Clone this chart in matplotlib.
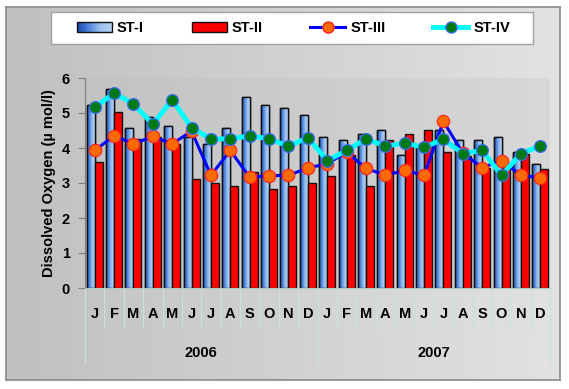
import matplotlib
matplotlib.use('Agg')
import matplotlib.pyplot as plt
import numpy as np
from matplotlib.patches import Rectangle
from matplotlib.legend_handler import HandlerBase
from matplotlib.lines import Line2D
import matplotlib.transforms as mtrans

plt.rcParams['font.family'] = ['Liberation Sans', 'DejaVu Sans']
plt.rcParams['font.weight'] = 'bold'

months = ['J', 'F', 'M', 'A', 'M', 'J', 'J', 'A', 'S', 'O', 'N', 'D'] * 2
years = ['2006', '2007']
st1 = [5.22, 5.68, 4.57, 4.90, 4.64, 4.31, 4.11, 4.57, 5.47, 5.23, 5.14, 4.94,
       4.31, 4.23, 4.41, 4.52, 3.81, 4.02, 4.52, 4.23, 4.23, 4.31, 3.90, 3.53]
st2 = [3.61, 5.03, 4.25, 4.31, 4.11, 3.12, 3.00, 2.92, 3.32, 2.82, 2.92, 3.00,
       3.20, 3.80, 2.92, 4.23, 4.41, 4.52, 3.90, 3.76, 3.42, 3.45, 3.83, 3.41]
st3 = [3.93, 4.35, 4.12, 4.33, 4.12, 4.48, 3.22, 3.93, 3.16, 3.21, 3.22, 3.43,
       3.55, 3.88, 3.42, 3.22, 3.36, 3.22, 4.76, 3.85, 3.44, 3.64, 3.22, 3.15]
st4 = [5.16, 5.57, 5.26, 4.68, 5.38, 4.58, 4.26, 4.26, 4.35, 4.26, 4.05, 4.30,
       3.64, 3.93, 4.26, 4.05, 4.14, 4.02, 4.25, 3.84, 3.93, 3.22, 3.84, 4.06]

blue_grad = matplotlib.colors.LinearSegmentedColormap.from_list(
    'bg', ['#1a48b0', '#4f86dc', '#9cc0ee', '#b4d0f4'])
gray_grad = matplotlib.colors.LinearSegmentedColormap.from_list(
    'gg', ['#c0c0c0', '#e2e2e2'])
plot_grad = matplotlib.colors.LinearSegmentedColormap.from_list(
    'pg', ['#c2c2c2', '#d8d8d8'])

fig = plt.figure(figsize=(5.69, 3.89), dpi=100)
fig.patch.set_facecolor('white')

# outer frame with gradient
bg = fig.add_axes([6/569, 1-380/389, 554/569, 373/389])
bg.imshow(np.linspace(0, 1, 256)[None, :], cmap=gray_grad, aspect='auto',
          extent=(0, 1, 0, 1))
for s in bg.spines.values():
    s.set_color('#8a8a8a')
    s.set_linewidth(1.2)
bg.set_xticks([])
bg.set_yticks([])

ax = fig.add_axes([85/569, 1-288/389, 465/569, 210/389])
n = len(st1)
x = np.arange(n)
ax.imshow(np.linspace(0, 1, 256)[None, :], cmap=plot_grad, aspect='auto',
          extent=(-0.5, n-0.5, 0, 6), zorder=0)

w = 0.41
bars1 = ax.bar(x - w/2, st1, w, color='#5a88d0', edgecolor='black', linewidth=1.0, zorder=2)
for b in bars1:
    x0 = b.get_x()
    img = ax.imshow(np.linspace(0, 1, 64)[None, :], cmap=blue_grad, aspect='auto',
                    extent=(x0, x0 + b.get_width(), 0, b.get_height()), zorder=2.1)
    img.set_clip_path(b)
ax.bar(x - w/2, st1, w, color='none', edgecolor='#111111', linewidth=1.0, zorder=2.2)
ax.bar(x + w/2, st2, w, color='#ff0000', edgecolor='#111111', linewidth=1.0, zorder=2.2)

ax.plot(x, st3, color='#0000ff', linewidth=2.2, marker='o', markersize=9,
        markerfacecolor='#ff6a00', markeredgecolor='#ff2020', markeredgewidth=0.8, zorder=3)
ax.plot(x, st4, color='#00ffff', linewidth=3.5, marker='o', markersize=8.5,
        markerfacecolor='#007a10', markeredgecolor='#3a6cf0', markeredgewidth=0.9, zorder=4)

ax.set_xlim(-0.5, n-0.5)
ax.set_ylim(0, 6)
ax.set_facecolor('none')
for s in ['top', 'right']:
    ax.spines[s].set_visible(False)
ax.spines['left'].set_color('#808080')
ax.spines['bottom'].set_color('#b0c8c8')
ax.set_yticks(range(7))
ax.tick_params(axis='y', length=5, color='#808080', labelsize=10.5, pad=6)
ax.set_xticks(x)
ax.set_xticklabels(months, fontsize=10.5, fontweight='bold')
ax.tick_params(axis='x', length=0, pad=14)
for lab in ax.get_yticklabels():
    lab.set_fontweight('bold')
ax.set_ylabel('Dissolved Oxygen (µ mol/l)', fontsize=10.5, fontweight='bold', labelpad=4)

# category separators below the axis
trans = mtrans.blended_transform_factory(ax.transData, ax.transAxes)
for i in range(n + 1):
    ybot = -0.36 if i % 12 == 0 else -0.19
    ax.plot([i - 0.5, i - 0.5], [0, ybot], color='#c8e2e2', linewidth=0.8,
            transform=trans, clip_on=False, zorder=1)
for k, yr in enumerate(years):
    ax.text(k*12 + 5.5, -0.31, yr, transform=trans, ha='center', va='center',
            fontsize=10.5, fontweight='bold')


class GradHandler(HandlerBase):
    def create_artists(self, legend, orig_handle, xdescent, ydescent, width, height, fontsize, trans):
        arts = []
        steps = 20
        for i in range(steps):
            arts.append(Rectangle((-xdescent + width*i/steps, -ydescent), width/steps + 0.3, height,
                                  facecolor=blue_grad(i/(steps-1)), edgecolor='none', transform=trans))
        arts.append(Rectangle((-xdescent, -ydescent), width, height, facecolor='none',
                              edgecolor='#111111', linewidth=1.0, transform=trans))
        return arts


# legend frame drawn separately, entries spread inside it
fig.patches.append(Rectangle((51/569, 1-44/389), 482/569, 32/389, transform=fig.transFigure,
                             facecolor='white', edgecolor='#a0a0a0', linewidth=1.0, zorder=5))

h1 = Rectangle((0, 0), 1, 1)
h2 = Rectangle((0, 0), 1, 1, facecolor='#ff0000', edgecolor='#111111')
h3 = Line2D([], [], color='#0000ff', linewidth=2.2, marker='o', markersize=8,
            markerfacecolor='#ff6a00', markeredgecolor='#ff2020')
h4 = Line2D([], [], color='#00ffff', linewidth=3.5, marker='o', markersize=8,
            markerfacecolor='#007a10', markeredgecolor='#3a6cf0')
leg = fig.legend([h1, h2, h3, h4], ['ST-I', 'ST-II', 'ST-III', 'ST-IV'],
                 handler_map={h1: GradHandler()},
                 loc='lower left', bbox_to_anchor=(68/569, 1-44/389, 451/569, 32/389),
                 mode='expand', ncol=4, frameon=False,
                 prop={'weight': 'bold', 'size': 10.5}, handlelength=2.4,
                 handletextpad=0.35, borderaxespad=0, borderpad=0.6)
leg.set_zorder(6)

fig.savefig('out.png', dpi=100)
